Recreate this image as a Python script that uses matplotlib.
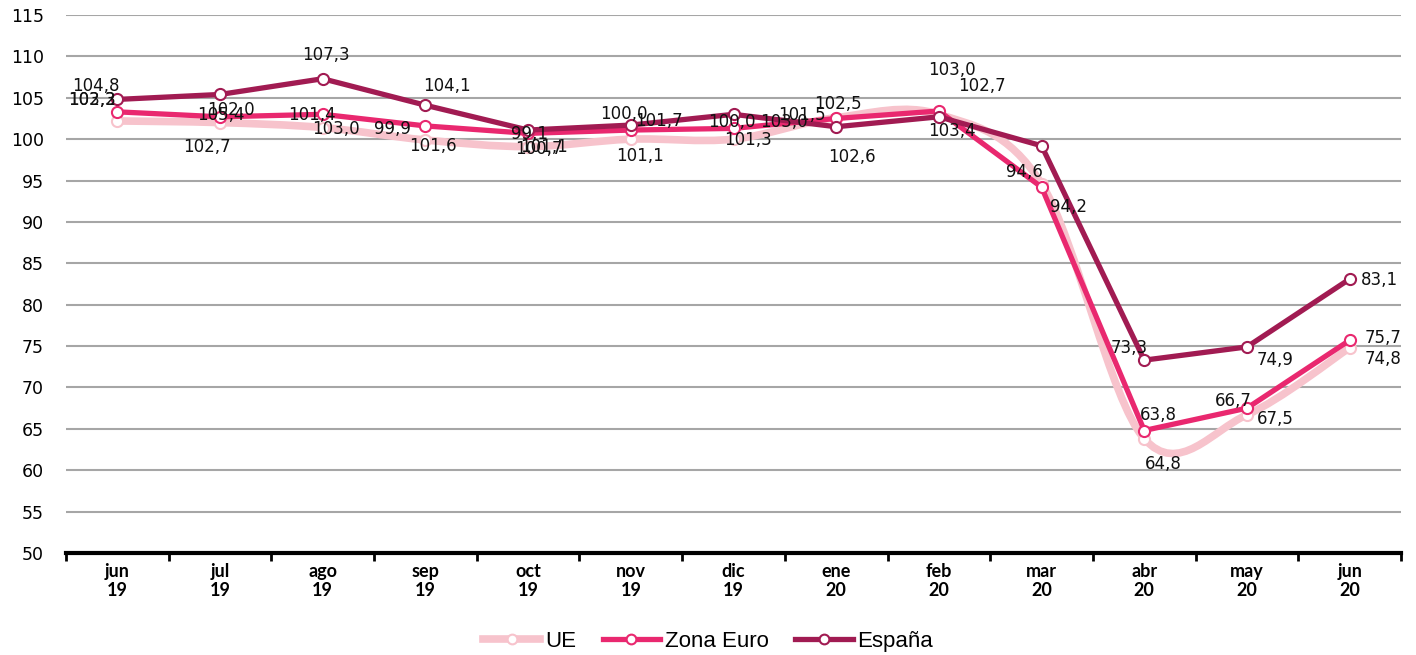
import numpy as np
import matplotlib
matplotlib.use('Agg')
import matplotlib.pyplot as plt
from matplotlib.path import Path
from matplotlib.patches import PathPatch
from matplotlib.lines import Line2D

# ---------------- data ----------------
categories = ['jun\n19', 'jul\n19', 'ago\n19', 'sep\n19', 'oct\n19', 'nov\n19', 'dic\n19',
              'ene\n20', 'feb\n20', 'mar\n20', 'abr\n20', 'may\n20', 'jun\n20']
ue = [102.2, 102.0, 101.4, 99.9, 99.1, 100.0, 100.0, 102.6, 103.0, 94.6, 63.8, 66.7, 74.8]
zona_euro = [103.3, 102.7, 103.0, 101.6, 100.7, 101.1, 101.3, 102.5, 103.4, 94.2, 64.8, 67.5, 75.7]
espana = [104.8, 105.4, 107.3, 104.1, 101.1, 101.7, 103.0, 101.5, 102.7, 99.2, 73.3, 74.9, 83.1]
series_names = ['UE', 'Zona Euro', 'España']
y_ticks = list(range(50, 116, 5))

# label placement (pixel offsets from each point; None = no label)
ue_off = [(-25, 21), (11, 13), (-11, 13), (-33, 11), (1, 13), (-7, 25), (-2, 17),
          (16, -39), (13, 44), (-17, 12), (14, 24), (-14, 14), (33, -11)]
ze_off = [(-25, 12), (-13, -30), (13, -15), (8, -20), (11, -16), (9, -26), (14, -12),
          (2, 14), (13, -20), (27, -20), (19, -33), (28, -11), (33, 2)]
es_off = [(-21, 13), (1, -21), (3, 24), (22, 19), (16, -17), (28, 4), (50, -8),
          (-34, 12), (43, 31), None, (-15, 12), (28, -13), (30, -1)]

# ---------------- style ----------------
c_ue = '#F7C3CC'
c_ze = '#E9286F'
c_es = '#A11B52'

fig = plt.figure(figsize=(14.16, 6.55), dpi=100)
ax = fig.add_axes([66 / 1416, 1 - 553 / 655, (1401 - 66) / 1416, (553 - 15) / 655])

x = np.arange(len(categories))


def smooth_path(xs, ys):
    pts = np.column_stack([xs, ys]).astype(float)
    n = len(pts)
    verts = [pts[0]]
    codes = [Path.MOVETO]
    for i in range(n - 1):
        p0 = pts[i - 1] if i > 0 else pts[i]
        p1 = pts[i]
        p2 = pts[i + 1]
        p3 = pts[i + 2] if i + 2 < n else pts[i + 1]
        c1 = p1 + (p2 - p0) / 6.0
        c2 = p2 - (p3 - p1) / 6.0
        verts += [c1, c2, p2]
        codes += [Path.CURVE4] * 3
    return Path(verts, codes)


# UE (smoothed)
ax.add_patch(PathPatch(smooth_path(x, ue), facecolor='none', edgecolor=c_ue, lw=5.5,
                       zorder=3, capstyle='round', joinstyle='round'))
ax.plot(x, ue, ls='none', marker='o', ms=8, mfc='white', mec=c_ue, mew=1.5, zorder=3.5)
# Zona Euro
ax.plot(x, zona_euro, color=c_ze, lw=3.8, marker='o', ms=8, mfc='white', mec=c_ze,
        mew=1.5, zorder=4, solid_joinstyle='round')
# España
ax.plot(x, espana, color=c_es, lw=3.8, marker='o', ms=8, mfc='white', mec=c_es,
        mew=1.5, zorder=5, solid_joinstyle='round')


def fmt(v):
    return f'{v:.1f}'.replace('.', ',')


for vals, offs in [(ue, ue_off), (zona_euro, ze_off), (espana, es_off)]:
    for xi, v, off in zip(x, vals, offs):
        if off is None:
            continue
        ax.annotate(fmt(v), (xi, v), xytext=off, textcoords='offset pixels',
                    ha='center', va='center', fontsize=12, color='#111111',
                    family='DejaVu Sans', zorder=6)

ax.set_xlim(-0.5, len(categories) - 0.5)
ax.set_ylim(50, 115)
ax.set_yticks(y_ticks)
ax.set_yticklabels([str(t) for t in y_ticks], fontsize=12.5, family='DejaVu Sans')
ax.tick_params(axis='y', length=0, pad=16)
ax.yaxis.grid(True, color='#A6A6A6', lw=1.5)
ax.set_axisbelow(True)

ax.set_xticks(x)
ax.set_xticklabels(categories, fontsize=13, fontweight='bold', family='Lato',
                   linespacing=1.15)
ax.set_xticks(np.arange(len(categories) + 1) - 0.5, minor=True)
ax.tick_params(axis='x', which='major', length=0, pad=7)
ax.tick_params(axis='x', which='minor', length=6, width=2, color='black', direction='out')

for s in ['left', 'right', 'top']:
    ax.spines[s].set_visible(False)
ax.spines['bottom'].set_linewidth(3)
ax.spines['bottom'].set_color('black')

handles = [
    Line2D([], [], color=c_ue, lw=5.5, marker='o', ms=7, mfc='white', mec=c_ue, mew=1.5),
    Line2D([], [], color=c_ze, lw=3.8, marker='o', ms=7, mfc='white', mec=c_ze, mew=1.5),
    Line2D([], [], color=c_es, lw=3.8, marker='o', ms=7, mfc='white', mec=c_es, mew=1.5),
]
fig.legend(handles, series_names, loc='center', bbox_to_anchor=(0.5, 0.021), ncol=3,
           frameon=False, numpoints=1, handlelength=2.6, handletextpad=0.2,
           columnspacing=1.2, prop={'family': 'Liberation Sans', 'size': 16})

fig.savefig('out.png', dpi=100)
